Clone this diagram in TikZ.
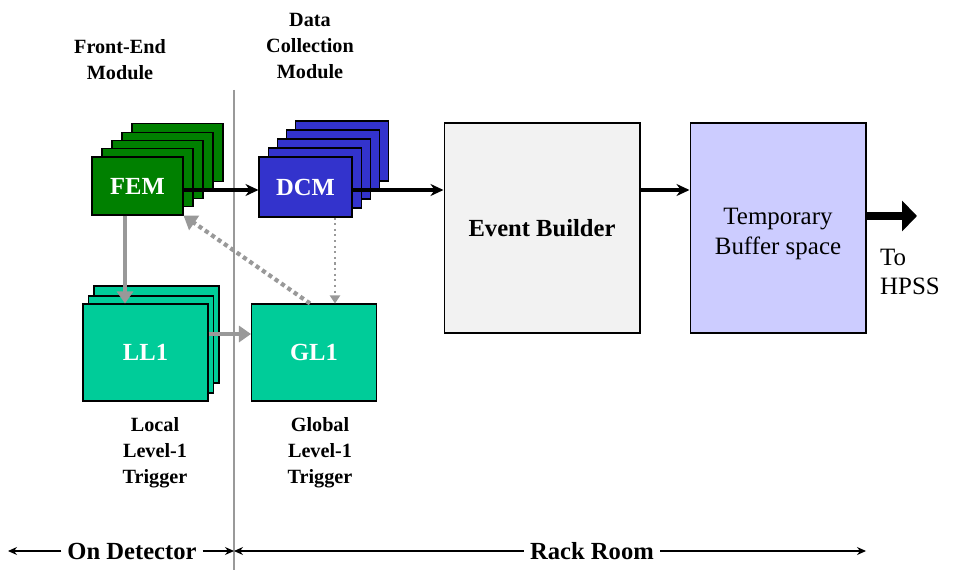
\documentclass[tikz,border=0pt]{standalone}
\usepackage{fontspec}
\setmainfont{Liberation Serif}
\usetikzlibrary{positioning}
\usetikzlibrary{arrows.meta}

\definecolor{femgreen}{RGB}{0,128,0}
\definecolor{dcmblue}{RGB}{51,51,204}
\definecolor{trigteal}{RGB}{0,204,153}
\definecolor{ebgray}{RGB}{242,242,242}
\definecolor{buflav}{RGB}{204,204,255}
\definecolor{linkgray}{RGB}{153,153,153}

\tikzset{
  card/.style = {draw = black, line width = 0.6pt, inner sep = 0pt},
  femcard/.style = {card, fill = femgreen, minimum width = 1.82cm, minimum height = 1.16cm},
  dcmcard/.style = {card, fill = dcmblue, minimum width = 1.86cm, minimum height = 1.2cm},
  trigcard/.style = {card, fill = trigteal, minimum width = 2.5cm, minimum height = 1.94cm},
  cardtext/.style = {text = white, font = \fontsize{14}{16}\selectfont\bfseries},
  caption/.style = {align = center, font = \fontsize{11.5}{14.7}\selectfont\bfseries},
  flow/.style = {black, line width = 2pt, -{Stealth[length = 2.6mm, width = 2.4mm]}},
  bigflow/.style = {black, line width = 4.5pt, -{Triangle[length = 3mm, width = 6mm]}},
  grayflow/.style = {linkgray, line width = 2.2pt, -{Triangle[length = 2.4mm, width = 3.2mm]}},
  span/.style = {black, line width = 0.6pt, -{Stealth[length = 1.8mm, width = 1.6mm]}}
}

\begin{document}
\begin{tikzpicture}[x = 0.02cm, y = -0.02cm]
	\useasboundingbox (0, 0) rectangle (955, 570);

	% divider between detector and rack room
	\coordinate (divtop) at (234, 90);
	\coordinate (divbot) at (234, 570);
	\draw[linkgray, line width = 0.6pt] (divtop)--(divbot);

	% stacked front-end modules
	\foreach \k in {4, 3, 2, 1}
		\node[femcard] at (137.5 + 10*\k, 186 - 8.3*\k) {};
	\node[femcard, cardtext] (fem) at (137.5, 186) {FEM};

	% stacked data collection modules
	\foreach \k in {4, 3, 2, 1}
		\node[dcmcard] at (305.5 + 9.2*\k, 187 - 9*\k) {};
	\node[dcmcard, cardtext] (dcm) at (305.5, 187) {DCM};

	\node[card, fill = ebgray, minimum width = 3.92cm, minimum height = 4.2cm, font = \fontsize{14}{16}\selectfont\bfseries] (eb) at (542, 228) {Event Builder};
	\node[card, fill = buflav, minimum width = 3.52cm, minimum height = 4.2cm] (tbs) at (778, 228) {};
	\node[align = center, font = \fontsize{14.2}{17}\selectfont] (tbstext) at (778, 234) {Temporary\\Buffer space};

	% level-1 triggers
	\node[trigcard] at (156.5, 334.5) {};
	\node[trigcard] at (151, 344.5) {};
	\node[trigcard, cardtext] (ll1) at (145.5, 352.5) {LL1};
	\node[trigcard, cardtext] (gl1) at (314, 352.5) {GL1};

	% captions
	\node[caption] (femcap) at (120, 60) {Front-End\\Module};
	\node[caption] (dcmcap) at (310, 46) {Data\\Collection\\Module};
	\node[caption] (ll1cap) at (155, 453) {Local\\Level-1\\Trigger};
	\node[caption] (gl1cap) at (320, 453) {Global\\Level-1\\Trigger};

	% data path
	\coordinate (bus) at (0, 190);
	\draw[flow] (fem.east |- bus)--(dcm.west |- bus);
	\draw[flow] (dcm.east |- bus)--(eb.west |- bus);
	\draw[flow] (eb.east |- bus)--(tbs.west |- bus);
	\coordinate (hpss) at (917, 216);
	\draw[bigflow] (tbs.east |- hpss)--(hpss);
	\node[anchor = west, align = left, font = \fontsize{14.2}{17}\selectfont] (hpsstext) at (874, 272) {To\\HPSS};

	% trigger links
	\coordinate (femtap) at (125, 0);
	\draw[grayflow] (fem.south -| femtap)--(ll1.north -| femtap);
	\draw[grayflow] ([yshift = 0.37cm]ll1.east)--([yshift = 0.37cm]gl1.west);
	\draw[linkgray, line width = 2.4pt, dotted, -{Triangle[length = 2.6mm, width = 3.4mm]}] ([xshift = -0.08cm]gl1.north)--(fem.south east);
	\coordinate (dcmtap) at (335, 0);
	\draw[linkgray, line width = 1.2pt, dotted, -{Triangle[length = 1.6mm, width = 2mm]}] (dcm.south -| dcmtap)--(gl1.north -| dcmtap);

	% location spans
	\node[font = \fontsize{14}{16}\selectfont\bfseries] (ondet) at (132, 551) {On Detector};
	\node[font = \fontsize{14}{16}\selectfont\bfseries] (rack) at (592, 551) {Rack Room};
	\coordinate (leftend) at (8, 551);
	\coordinate (rightend) at (866, 551);
	\draw[span] (ondet.west)--(leftend);
	\draw[span] (ondet.east)--(ondet.east -| divtop);
	\draw[span] (rack.west)--(rack.west -| divtop);
	\draw[span] (rack.east)--(rightend);
\end{tikzpicture}
\end{document}
